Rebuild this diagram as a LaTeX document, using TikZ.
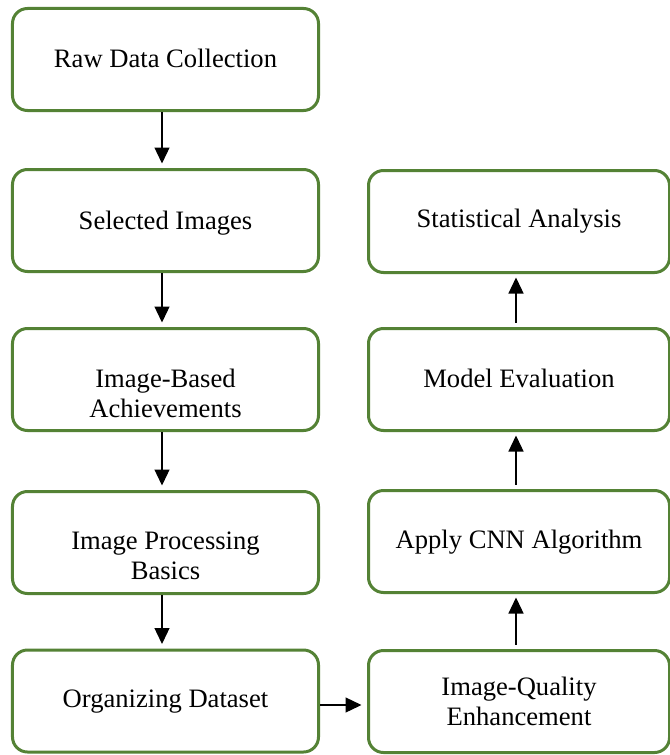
\documentclass[tikz,border=0pt]{standalone}
\usepackage{fontspec}
\setmainfont{Liberation Serif}
\usetikzlibrary{arrows.meta}
\definecolor{boxgreen}{RGB}{84,130,53}
\tikzset{
  box/.style={draw=boxgreen, line width=3bp, rounded corners=15bp, fill=white},
  lbox/.style={box, minimum width=306bp, minimum height=102bp},
  rbox/.style={box, minimum width=301bp, minimum height=102bp},
  txt/.style={font=\fontsize{26.7}{30}\selectfont, align=center, anchor=base, inner sep=0pt},
  arr/.style={line width=1.3bp, -{Triangle[width=15bp,length=16bp]}},
}
\begin{document}
\begin{tikzpicture}[x=1bp, y=-1bp]
\useasboundingbox (0,0) rectangle (670,755);
\clip (0,0) rectangle (670,755);
\fill[white] (0,0) rectangle (670,755);
% left column
\node[lbox] (b1) at (165.5,59.5) {};
\node[lbox] (b2) at (165.5,220.5) {};
\node[lbox] (b3) at (165.5,379.5) {};
\node[lbox] (b4) at (165.5,542.5) {};
\node[lbox] (b5) at (165.5,701) {};
% right column
\node[rbox] (r1) at (519,221.5) {};
\node[rbox] (r2) at (519,379.5) {};
\node[rbox] (r3) at (519,541.5) {};
\node[rbox] (r4) at (519,701.5) {};
% texts (base anchor of a two-line node is the last line's baseline)
\node[txt] (t1) at (165.5,68) {Raw Data Collection};
\node[txt] (t2) at (165.5,229) {Selected Images};
\node[txt] (t3) at (165.5,417) {Image-Based\\Achievements};
\node[txt] (t4) at (165.5,579) {Image Processing\\Basics};
\node[txt] (t5) at (165.5,707) {Organizing Dataset};
\node[txt] (s1) at (519,227) {Statistical Analysis};
\node[txt] (s2) at (519,387) {Model Evaluation};
\node[txt] (s3) at (519,548) {Apply CNN Algorithm};
\node[txt] (s4) at (519,725) {Image-Quality\\Enhancement};
% left arrows
\draw[arr, shorten >=4.5bp] ([xshift=-3.5bp]b1.south) -- ([xshift=-3.5bp]b2.north);
\draw[arr, shorten >=4.5bp] ([xshift=-3.5bp]b2.south) -- ([xshift=-3.5bp]b3.north);
\draw[arr, shorten >=4.5bp] ([xshift=-3.5bp]b3.south) -- ([xshift=-3.5bp]b4.north);
\draw[arr, shorten >=4.5bp] ([xshift=-3.5bp]b4.south) -- ([xshift=-3.5bp]b5.north);
% horizontal arrow
\draw[arr, shorten >=5.5bp] ([yshift=-4bp]b5.east) -- ([yshift=-4bp]b5.east -| r4.west);
% right arrows
\draw[arr, shorten <=4.5bp, shorten >=3.5bp] ([xshift=-3bp]r4.north) -- ([xshift=-3bp]r3.south);
\draw[arr, shorten <=4.5bp, shorten >=3.5bp] ([xshift=-3bp]r3.north) -- ([xshift=-3bp]r2.south);
\draw[arr, shorten <=4.5bp, shorten >=3.5bp] ([xshift=-3bp]r2.north) -- ([xshift=-3bp]r1.south);
\end{tikzpicture}
\end{document}
